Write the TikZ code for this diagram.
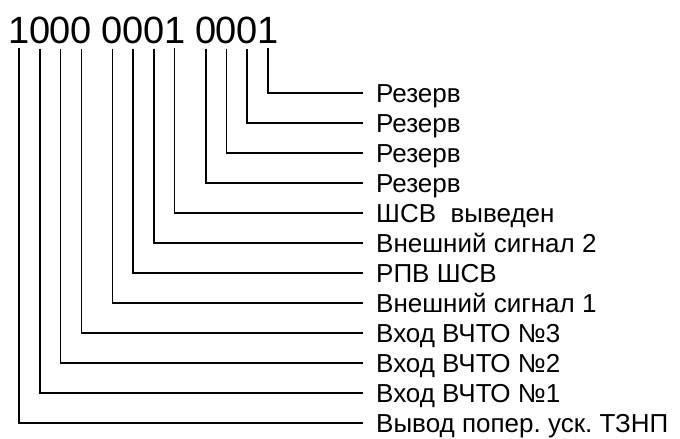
\documentclass[tikz,border=0pt]{standalone}
\usepackage{fontspec}
\setmainfont{Liberation Sans}
\frenchspacing
\usetikzlibrary{calc}
\tikzset{
  bitdig/.style={anchor=base, inner xsep=0pt, inner ysep=5pt,
    font=\fontsize{38}{40}\selectfont},
  bitlbl/.style={anchor=west, inner xsep=13pt, inner ysep=0pt,
    text height=19pt, text depth=0pt, font=\fontsize{26}{28}\selectfont},
  bitln/.style={line width=1.6pt, color=black},
}
\begin{document}
\begin{tikzpicture}[x=1pt, y=-1pt]
  \useasboundingbox (0,0) rectangle (680,439);
  \foreach \dig/\x [count=\i] in {
      1/19.0, 0/39.8, 0/60.5, 0/81.3,
      0/112.4, 0/133.1, 0/153.9, 1/174.6,
      0/205.7, 0/226.5, 0/247.2, 1/268.0}{
    \node[bitdig] (d\i) at (\x, 43) {\dig};}
  \foreach \lbl/\y [count=\i] in {
      Вывод попер. уск. ТЗНП/423, Вход ВЧТО №1/393, Вход ВЧТО №2/363,
      Вход ВЧТО №3/333, Внешний сигнал 1/303, РПВ ШСВ/273,
      Внешний сигнал 2/243, ШСВ\ \ выведен/213, Резерв/183,
      Резерв/153, Резерв/123, Резерв/93}{
    \node[bitlbl] (l\i) at (363, \y) {\lbl};
    \draw[bitln] (d\i.south) |- (l\i.west);}
\end{tikzpicture}
\end{document}
